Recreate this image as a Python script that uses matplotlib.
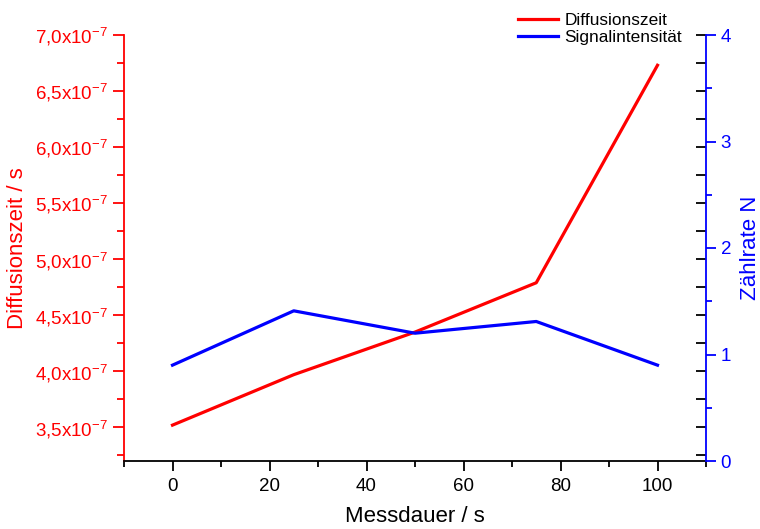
import numpy as np
import matplotlib
matplotlib.use("Agg")
import matplotlib.pyplot as plt
from matplotlib.ticker import MultipleLocator, FuncFormatter

plt.rcParams['font.family'] = ['Liberation Sans', 'DejaVu Sans']
plt.rcParams['mathtext.default'] = 'regular'

# data
messdauer = [0, 25, 50, 75, 100]
diffusionszeit = [3.52e-7, 3.97e-7, 4.35e-7, 4.79e-7, 6.73e-7]
zaehlrate = [0.90, 1.41, 1.20, 1.31, 0.90]

red = '#ff0000'
blue = '#0000ff'

def sci_fmt(v, pos):
    return ("%.1f" % (v * 1e7)).replace('.', ',') + "x10$^{-7}$"

fig = plt.figure(figsize=(7.6, 5.29), dpi=100)
ax = fig.add_axes([124/760, 1-461/529, (706-124)/760, (461-35)/529])

l1, = ax.plot(messdauer, diffusionszeit, color=red, lw=2.3, label='Diffusionszeit')
ax.set_xlim(-10, 110)
ax.set_ylim(3.2e-7, 7.0e-7)
ax.xaxis.set_major_locator(MultipleLocator(20))
ax.xaxis.set_minor_locator(MultipleLocator(10))
ax.yaxis.set_major_locator(MultipleLocator(0.5e-7))
ax.yaxis.set_minor_locator(MultipleLocator(0.25e-7))
ax.yaxis.set_major_formatter(FuncFormatter(sci_fmt))

ax.spines['top'].set_visible(False)
ax.spines['right'].set_visible(False)
ax.spines['left'].set_color(red)
ax.spines['left'].set_linewidth(1.3)
ax.spines['bottom'].set_linewidth(1.3)
ax.tick_params(axis='y', which='both', colors=red, labelsize=13.5, direction='out')
ax.tick_params(axis='y', which='major', length=8, width=1.3)
ax.tick_params(axis='y', which='minor', length=5, width=1.3)
ax.tick_params(axis='x', which='both', colors='black', labelsize=13.5, direction='out')
ax.tick_params(axis='x', which='major', length=7, width=1.3, pad=5)
ax.tick_params(axis='x', which='minor', length=4, width=1.3)
ax.set_xlabel('Messdauer / s', fontsize=16, va='center')
ax.xaxis.set_label_coords(0.5, (461-516)/426)
ax.set_ylabel('Diffusionszeit / s', fontsize=16, color=red, va='center')
ax.yaxis.set_label_coords((18-124)/582, 0.5)

# mirrored black ticks of the left scale on the right frame, pointing inward
ax3 = ax.twinx()
ax3.set_ylim(ax.get_ylim())
ax3.yaxis.set_major_locator(MultipleLocator(0.5e-7))
ax3.yaxis.set_minor_locator(MultipleLocator(0.25e-7))
ax3.tick_params(axis='y', which='both', direction='in', colors='black',
                length=7, width=1.3, labelright=False)
for s in ax3.spines.values():
    s.set_visible(False)

ax2 = ax.twinx()
l2, = ax2.plot(messdauer, zaehlrate, color=blue, lw=2.3, label='Signalintensität')
ax2.set_ylim(0, 4)
ax2.yaxis.set_major_locator(MultipleLocator(1))
ax2.yaxis.set_minor_locator(MultipleLocator(0.5))
for k in ['top', 'left', 'bottom']:
    ax2.spines[k].set_visible(False)
ax2.spines['right'].set_color(blue)
ax2.spines['right'].set_linewidth(1.3)
ax2.tick_params(axis='y', which='both', colors=blue, labelsize=13.5, direction='out')
ax2.tick_params(axis='y', which='major', length=7, width=1.3)
ax2.tick_params(axis='y', which='minor', length=4, width=1.3)
ax2.set_ylabel('Zählrate N', fontsize=16, color=blue, va='center')
ax2.yaxis.set_label_coords((750-124)/582, 0.5)

fig.legend(handles=[l1, l2], loc='upper right', bbox_to_anchor=(684/760, 1-11/529),
           frameon=False, fontsize=12.4, handlelength=2.3, handletextpad=0.4,
           labelspacing=0.15, borderaxespad=0, borderpad=0.1)

fig.savefig('out.png', dpi=100)
